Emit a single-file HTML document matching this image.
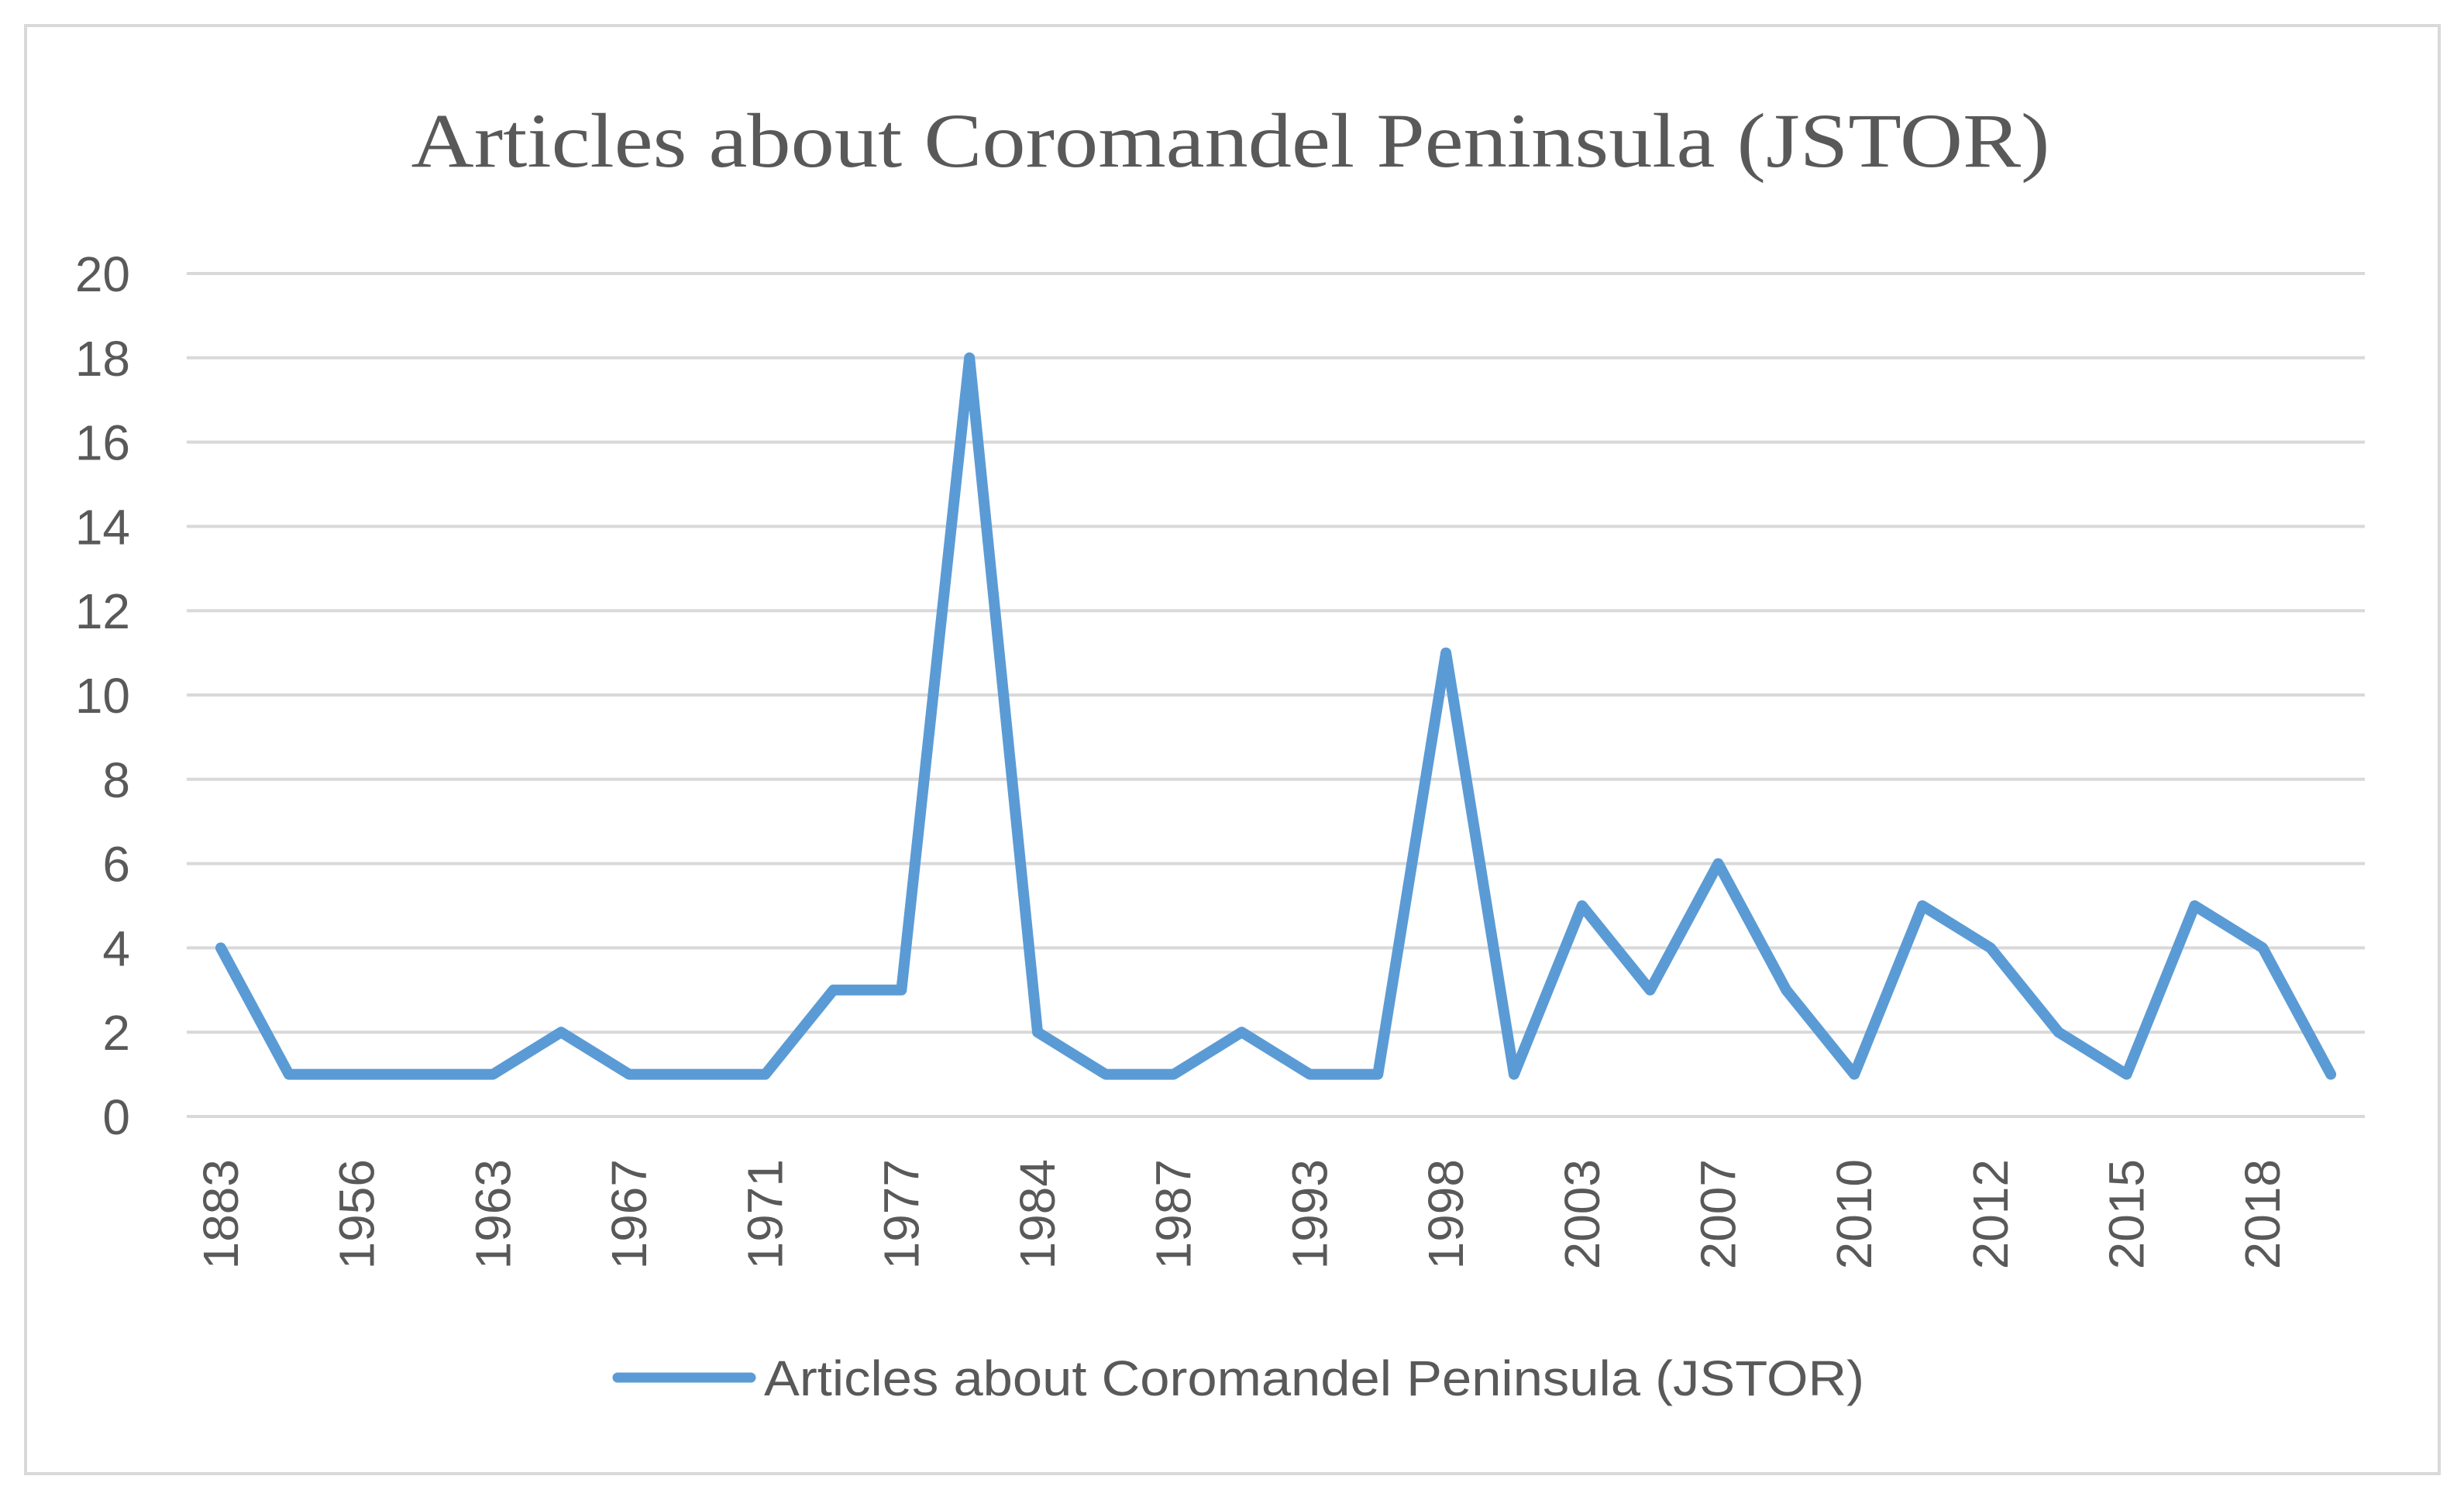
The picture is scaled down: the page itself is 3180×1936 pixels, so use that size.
<!DOCTYPE html>
<html><head><meta charset="utf-8"><style>
html,body{margin:0;padding:0;background:#fff;}
svg{display:block;}
</style></head><body>
<svg id="chart" width="3180" height="1936" xmlns="http://www.w3.org/2000/svg">
<rect x="33" y="33" width="3115" height="1869" fill="#fff" stroke="#d9d9d9" stroke-width="4"/>
<text x="1588" y="215" text-anchor="middle" font-family="'Liberation Serif', serif" font-size="100" fill="#595959" textLength="2115" lengthAdjust="spacingAndGlyphs">Articles about Coromandel Peninsula (JSTOR)</text>
<g id="grid"></g><g id="ylabels"></g><g id="xlabels"></g><g id="series"></g>
<line x1="797" y1="1778" x2="969" y2="1778" stroke="#5b9bd5" stroke-width="13" stroke-linecap="round"/>
<text x="986" y="1801" font-family="'Liberation Sans', sans-serif" font-size="64" fill="#595959" textLength="1420" lengthAdjust="spacingAndGlyphs">Articles about Coromandel Peninsula (JSTOR)</text>
</svg>
<script>
const categories = ["1883","1950","1956","1960","1963","1965","1967","1969","1971","1974","1977","1980","1984","1986","1987","1990","1993","1995","1998","2001","2003","2005","2007","2008","2010","2011","2012","2014","2015","2016","2018","2020"];
const values = [4,1,1,1,1,2,1,1,1,3,3,18,2,1,1,2,1,1,11,1,5,3,6,3,1,5,4,2,1,5,4,1];
const yTicks = [0,2,4,6,8,10,12,14,16,18,20];
const NS="http://www.w3.org/2000/svg";
const L=241,R=3052,Y0=1441,Y20=353;
const bw=(R-L)/categories.length;
const xs=i=>L+bw*(i+0.5);
const ys=v=>Y0+(Y20-Y0)*v/20;
const grid=document.getElementById('grid'),yl=document.getElementById('ylabels'),xl=document.getElementById('xlabels'),se=document.getElementById('series');
yTicks.forEach(t=>{
 const ln=document.createElementNS(NS,'line');
 
 
 ln.setAttribute('x1',L);ln.setAttribute('x2',R);ln.setAttribute('y1',ys(t));ln.setAttribute('y2',ys(t));
 ln.setAttribute('stroke','#d9d9d9');ln.setAttribute('stroke-width','4');grid.appendChild(ln);
 const tx=document.createElementNS(NS,'text');
 
 
 tx.setAttribute('x',168);tx.setAttribute('y',ys(t)+23);tx.setAttribute('text-anchor','end');
 tx.setAttribute('font-family',"'Liberation Sans', sans-serif");tx.setAttribute('font-size','64');tx.setAttribute('fill','#595959');
 tx.textContent=t;yl.appendChild(tx);
});
categories.forEach((c,i)=>{
 if(i%2) return;
 const tx=document.createElementNS(NS,'text');
 
 
 const x=xs(i)+22,y=1496;
 tx.setAttribute('x',x);tx.setAttribute('y',y);tx.setAttribute('text-anchor','end');
 tx.setAttribute('transform',`rotate(-90 ${x} ${y})`);
 tx.setAttribute('font-family',"'Liberation Sans', sans-serif");tx.setAttribute('font-size','64');tx.setAttribute('fill','#595959');
 tx.textContent=c;xl.appendChild(tx);
});
const p=document.createElementNS(NS,'polyline');


p.setAttribute('points',values.map((v,i)=>xs(i)+','+ys(v)).join(' '));
p.setAttribute('fill','none');p.setAttribute('stroke','#5b9bd5');p.setAttribute('stroke-width','14');
p.setAttribute('stroke-linejoin','round');p.setAttribute('stroke-linecap','round');
se.appendChild(p);
</script>
</body></html>
